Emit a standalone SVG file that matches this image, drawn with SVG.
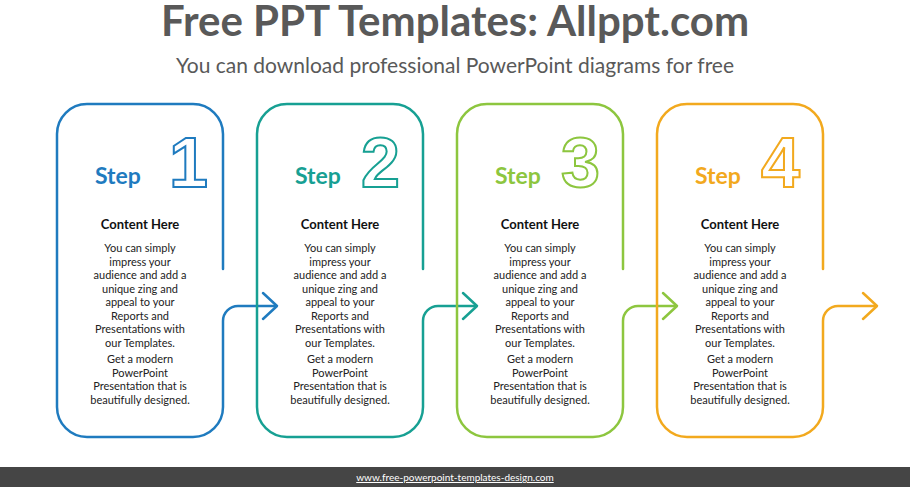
<svg xmlns="http://www.w3.org/2000/svg" width="910" height="487" viewBox="0 0 910 487">
<style>
.fr{fill:none;stroke-width:2.5;stroke-linecap:round;stroke-linejoin:round}
.st{font-family:Lato,"Liberation Sans",sans-serif;font-weight:bold;font-size:23px}
.num{font-family:"Liberation Sans",Arial,sans-serif;font-weight:bold;font-size:70px;fill:none;stroke-width:2}
.ch{font-family:Lato,"Liberation Sans",sans-serif;font-weight:bold;font-size:13px;fill:#111;text-anchor:middle}
.bd{font-family:Lato,"Liberation Sans",sans-serif;font-size:11px;fill:#222;text-anchor:middle}
</style>
<defs>
<g id="panel">
<path class="fr" d="M166,165 V30 A30,30 0 0 0 136,0 H30 A30,30 0 0 0 0,30 V303 A30,30 0 0 0 30,333 H136 A30,30 0 0 0 166,303 V217 A15,15 0 0 1 181,202 H219"/>
<polyline class="fr" points="206,189 220,202 206,215"/>
</g>
<g id="txt">
<text class="ch" x="83" y="125">Content  Here</text>
<text class="bd" x="83" y="148">You can simply</text>
<text class="bd" x="83" y="161.5">impress your</text>
<text class="bd" x="83" y="175">audience and add a</text>
<text class="bd" x="83" y="188.5">unique zing and</text>
<text class="bd" x="83" y="202">appeal to your</text>
<text class="bd" x="83" y="215.5">Reports and</text>
<text class="bd" x="83" y="229">Presentations with</text>
<text class="bd" x="83" y="242.5">our Templates.</text>
<text class="bd" x="83" y="259">Get a modern</text>
<text class="bd" x="83" y="272.5">PowerPoint</text>
<text class="bd" x="83" y="286">Presentation that is</text>
<text class="bd" x="83" y="299.5">beautifully designed.</text>
</g>
</defs>
<rect width="910" height="487" fill="#fff"/>
<text x="455" y="36" text-anchor="middle" font-family="Lato,'Liberation Sans',sans-serif" font-weight="bold" font-size="42" fill="#595959">Free PPT Templates: Allppt.com</text>
<text x="455" y="73" text-anchor="middle" font-family="Lato,'Liberation Sans',sans-serif" font-size="21" fill="#595959">You can download professional PowerPoint diagrams for free</text>
<g id="connectors"></g>
<g id="step1" transform="translate(57,104)" stroke="#1F7BBF" fill="#1F7BBF">
<use href="#panel"/><text class="st" x="38" y="80" stroke="none">Step</text><text class="num" x="112" y="83">1</text><use href="#txt" stroke="none"/>
</g>
<g id="step2" transform="translate(257,104)" stroke="#17A093" fill="#17A093">
<use href="#panel"/><text class="st" x="38" y="80" stroke="none">Step</text><text class="num" x="104" y="83">2</text><use href="#txt" stroke="none"/>
</g>
<g id="step3" transform="translate(457,104)" stroke="#8DC63F" fill="#8DC63F">
<use href="#panel"/><text class="st" x="38" y="80" stroke="none">Step</text><text class="num" x="104" y="83">3</text><use href="#txt" stroke="none"/>
</g>
<g id="step4" transform="translate(657,104)" stroke="#F2A91E" fill="#F2A91E">
<use href="#panel"/><text class="st" x="38" y="80" stroke="none">Step</text><text class="num" x="104" y="83">4</text><use href="#txt" stroke="none"/>
</g>
<rect x="0" y="467" width="910" height="20" fill="#454545"/>
<text x="455" y="481" text-anchor="middle" font-family="Lato,'Liberation Sans',sans-serif" font-size="10" fill="#fff" text-decoration="underline">www.free-powerpoint-templates-design.com</text>
</svg>
